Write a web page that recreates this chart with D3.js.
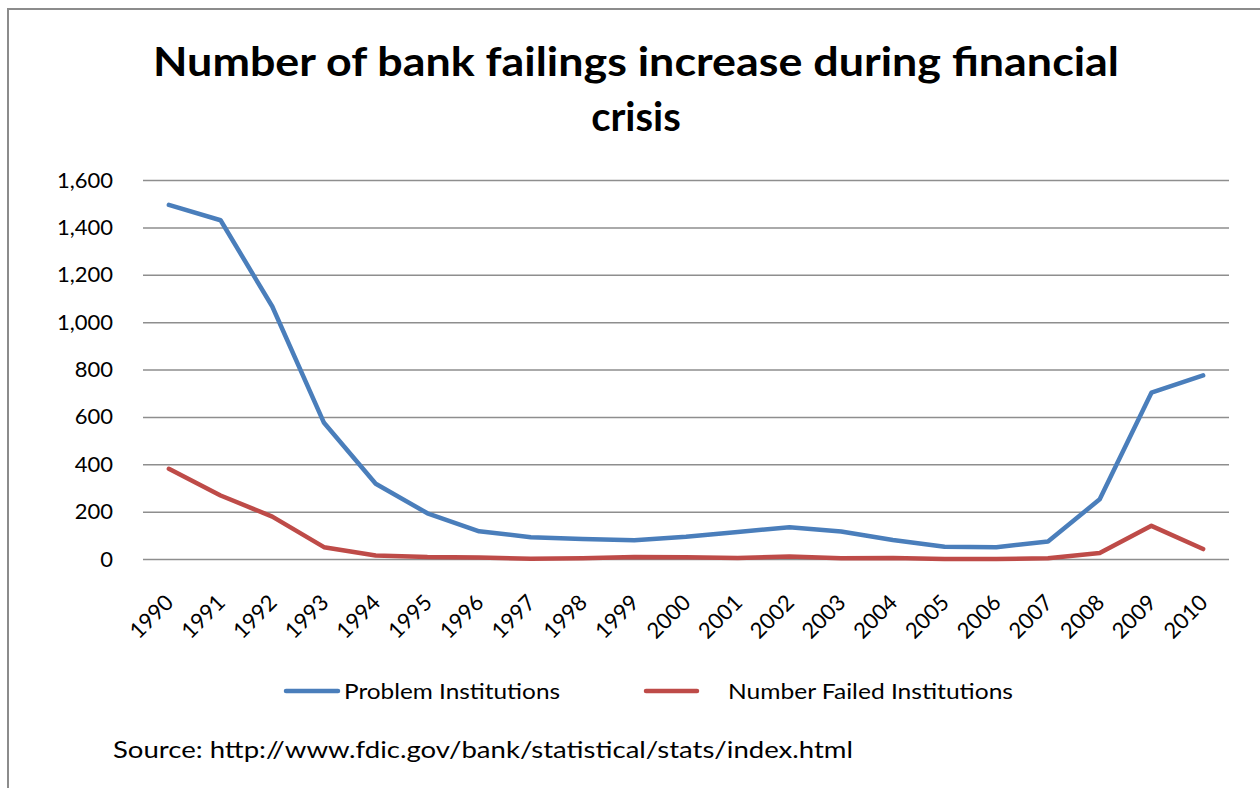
<!DOCTYPE html>
<html>
<head>
<meta charset="utf-8">
<script src="https://cdn.jsdelivr.net/npm/d3@7"></script>
<style>
  html, body { margin: 0; padding: 0; background: #fff; }
  svg { display: block; }
  text { font-family: Lato, "Open Sans", sans-serif; fill: #000; }
</style>
</head>
<body>
<svg id="chart" width="1260" height="788"></svg>
<script>
const years = ["1990","1991","1992","1993","1994","1995","1996","1997","1998","1999","2000","2001","2002","2003","2004","2005","2006","2007","2008","2009","2010"];
const problemInstitutions = [1495, 1430, 1066, 575, 318, 193, 117, 92, 84, 79, 94, 114, 134, 116, 80, 52, 50, 74, 252, 702, 775];
const failedInstitutions = [381, 268, 179, 50, 15, 8, 6, 1, 3, 8, 7, 4, 11, 3, 4, 0, 0, 3, 25, 140, 42];
const yTicks = [0, 200, 400, 600, 800, 1000, 1200, 1400, 1600];
const seriesNames = ["Problem Institutions", "Number Failed Institutions"];
const seriesColors = ["#4A7EBB", "#BE4B48"];
const titleLines = ["Number of bank failings increase during financial", "crisis"];
const sourceText = "Source: http://www.fdic.gov/bank/statistical/stats/index.html";

const svg = d3.select("#chart");

// outer frame (only top and left visible in the picture)
svg.append("path")
  .attr("d", "M8,788 L8,9 L1260,9")
  .attr("fill", "none")
  .attr("stroke", "#8c8c8c")
  .attr("stroke-width", 2);

const plot = { left: 143, right: 1229, top: 180, bottom: 559 };

const x = d3.scaleBand().domain(years).range([plot.left, plot.right]);
const y = d3.scaleLinear().domain([0, 1600]).range([plot.bottom, plot.top]);

// title
const title = svg.append("text").attr("text-anchor", "middle")
  .style("font-weight", "bold").style("font-size", "40px");
title.append("tspan").attr("x", 636).attr("y", 76).text(titleLines[0])
  .attr("textLength", 966).attr("lengthAdjust", "spacingAndGlyphs");
title.append("tspan").attr("x", 636).attr("y", 131).text(titleLines[1]);

// gridlines
const yAxis = d3.axisLeft(y).tickValues(yTicks)
  .tickSize(-(plot.right - plot.left))
  .tickPadding(30)
  .tickFormat(d3.format(","));
const gy = svg.append("g").attr("transform", `translate(${plot.left},0)`).call(yAxis);
gy.select(".domain").remove();
gy.selectAll(".tick line").attr("stroke", "#8e8e8e").attr("stroke-width", 1.5);
gy.selectAll(".tick text").style("font-size", "22px").attr("fill", "#000")
  .attr("font-family", "Lato, sans-serif");

// x axis labels
const xAxis = d3.axisBottom(x).tickSize(0).tickPadding(0);
const gx = svg.append("g").attr("transform", `translate(0,${plot.bottom})`).call(xAxis);
gx.select(".domain").remove();
gx.selectAll(".tick text")
  .style("font-size", "22px")
  .attr("fill", "#000")
  .attr("font-family", "Lato, sans-serif")
  .attr("text-anchor", "end")
  .attr("dy", null)
  .attr("y", null)
  .attr("transform", "translate(6,45) rotate(-45)");

// lines
const line = d3.line()
  .x((d, i) => x(years[i]) + x.bandwidth() / 2)
  .y(d => y(d));
[problemInstitutions, failedInstitutions].forEach((s, k) => {
  svg.append("path")
    .datum(s)
    .attr("d", line)
    .attr("fill", "none")
    .attr("stroke", seriesColors[k])
    .attr("stroke-width", 4.5)
    .attr("stroke-linejoin", "round")
    .attr("stroke-linecap", "round");
});

// legend
const legendItems = [
  { x1: 286, x2: 338, tx: 344, tw: 216 },
  { x1: 646, x2: 697, tx: 728, tw: 285 }
];
legendItems.forEach((it, k) => {
  svg.append("line")
    .attr("x1", it.x1).attr("x2", it.x2)
    .attr("y1", 691).attr("y2", 691)
    .attr("stroke", seriesColors[k]).attr("stroke-width", 4.5)
    .attr("stroke-linecap", "round");
  svg.append("text")
    .attr("x", it.tx).attr("y", 699)
    .style("font-size", "21px")
    .attr("textLength", it.tw).attr("lengthAdjust", "spacingAndGlyphs")
    .text(seriesNames[k]);
});

// source
svg.append("text")
  .attr("x", 113).attr("y", 758)
  .style("font-size", "23px")
  .attr("textLength", 740).attr("lengthAdjust", "spacingAndGlyphs")
  .text(sourceText);
</script>
</body>
</html>
